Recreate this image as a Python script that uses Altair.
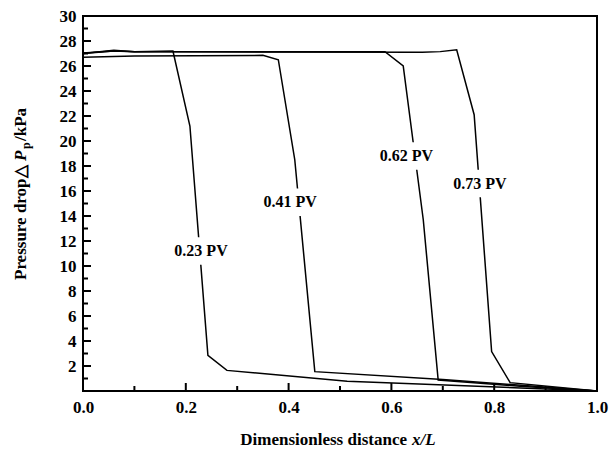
import altair as alt
import pandas as pd

# ---- data ----
x23 = [0.0, 0.06, 0.10, 0.175, 0.208, 0.243, 0.280, 0.514, 1.0]
y23 = [27.0, 27.25, 27.15, 27.2, 21.2, 2.85, 1.65, 0.78, 0.0]
x41 = [0.0, 0.10, 0.35, 0.38, 0.412, 0.451, 0.700, 1.0]
y41 = [26.7, 26.8, 26.85, 26.5, 18.5, 1.55, 0.92, 0.0]
x62 = [0.0, 0.06, 0.10, 0.5875, 0.623, 0.662, 0.691, 0.85, 1.0]
y62 = [27.0, 27.2, 27.15, 27.15, 26.0, 13.7, 0.88, 0.38, 0.0]
x73 = [0.0, 0.06, 0.10, 0.66, 0.695, 0.727, 0.761, 0.795, 0.831, 1.0]
y73 = [27.05, 27.2, 27.15, 27.1, 27.15, 27.3, 22.1, 3.15, 0.67, 0.0]

series_names = ["0.23 PV", "0.41 PV", "0.62 PV", "0.73 PV"]
label_x = [0.2296, 0.403, 0.629, 0.772]
label_y = [11.2, 15.1, 18.8, 16.6]

x_major = [0.0, 0.2, 0.4, 0.6, 0.8, 1.0]
x_minor = [0.1, 0.3, 0.5, 0.7, 0.9]
y_major = [2, 4, 6, 8, 10, 12, 14, 16, 18, 20, 22, 24, 26, 28, 30]
y_minor = [1, 3, 5, 7, 9, 11, 13, 15, 17, 19, 21, 23, 25, 27, 29]

# ---- tables ----
rows = []
for name, xs_, ys_ in zip(series_names, [x23, x41, x62, x73], [y23, y41, y62, y73]):
    for i, (a, b) in enumerate(zip(xs_, ys_)):
        rows.append({"series": name, "i": i, "x": a, "y": b})
lines_df = pd.DataFrame(rows)

hw, hh = 0.062, 1.1
labels_df = pd.DataFrame({
    "text": series_names,
    "x": label_x,
    "y": label_y,
    "x1": [v - hw for v in label_x],
    "x2": [v + hw for v in label_x],
    "y1": [v - hh for v in label_y],
    "y2": [v + hh for v in label_y],
})

W, H = 514, 375
FONT = "Liberation Serif"
xs = alt.Scale(domain=[0, 1], nice=False)
ys = alt.Scale(domain=[0, 30], nice=False)
common = dict(title=None, ticks=False, domain=False, grid=False, labelFlush=False,
              labelFont=FONT, labelFontSize=17, labelFontWeight="bold",
              labelColor="black", labelOverlap=False)
xaxis = alt.Axis(values=x_major, format=".1f", labelPadding=8, **common)
yaxis = alt.Axis(values=y_major, format="d", labelPadding=7, **common)

lines = alt.Chart(lines_df).mark_line(color="black", strokeWidth=1.5).encode(
    x=alt.X("x:Q", scale=xs, axis=xaxis),
    y=alt.Y("y:Q", scale=ys, axis=yaxis),
    detail="series:N",
    order="i:Q",
)

boxes = alt.Chart(labels_df).mark_rect(color="white").encode(
    x=alt.X("x1:Q", scale=xs, axis=xaxis), x2="x2:Q",
    y=alt.Y("y1:Q", scale=ys, axis=yaxis), y2="y2:Q",
)

texts = alt.Chart(labels_df).mark_text(font=FONT, fontSize=16, fontWeight="bold",
                                       color="black").encode(
    x=alt.X("x:Q", scale=xs, axis=xaxis),
    y=alt.Y("y:Q", scale=ys, axis=yaxis),
    text="text:N",
)

xmaj = alt.Chart(pd.DataFrame({"v": x_major[1:-1]})).mark_rule(color="black", strokeWidth=2).encode(
    x=alt.X("v:Q", scale=xs, axis=xaxis), y=alt.value(H), y2=alt.value(H - 8))
xmin = alt.Chart(pd.DataFrame({"v": x_minor})).mark_rule(color="black", strokeWidth=2).encode(
    x=alt.X("v:Q", scale=xs, axis=xaxis), y=alt.value(H), y2=alt.value(H - 5))
ymaj = alt.Chart(pd.DataFrame({"v": y_major[:-1]})).mark_rule(color="black", strokeWidth=2).encode(
    y=alt.Y("v:Q", scale=ys, axis=yaxis), x=alt.value(0), x2=alt.value(8))
ymin = alt.Chart(pd.DataFrame({"v": y_minor})).mark_rule(color="black", strokeWidth=2).encode(
    y=alt.Y("v:Q", scale=ys, axis=yaxis), x=alt.value(0), x2=alt.value(5))

dummy = pd.DataFrame({"d": [0]})

def piece(text, x, y, size=17, style="normal", angle=0, align="left"):
    return alt.Chart(dummy).mark_text(
        text=text, font=FONT, fontSize=size, fontWeight="bold", fontStyle=style,
        angle=angle, align=align, baseline="middle", color="black"
    ).encode(x=alt.value(x), y=alt.value(y))

# x-axis title: "Dimensionless distance x/L"
xt_y = 440 - 16
xt1 = piece("Dimensionless distance", 324, xt_y, align="right")
xt2 = piece("x/L", 329, xt_y, style="italic", align="left")

# y-axis title: "Pressure drop△P_p /kPa" (rotated)
yx = 21 - 83
yt1 = piece("Pressure drop\u25b3", yx, 280 - 16, angle=270)
yt2 = piece("P", yx, 161 - 16, style="italic", angle=270)
yt3 = piece("p", yx + 5, 149 - 16, size=12, angle=270)
yt4 = piece("/kPa", yx, 141 - 16, angle=270)

chart = alt.layer(
    lines, boxes, texts, xmaj, xmin, ymaj, ymin, xt1, xt2, yt1, yt2, yt3, yt4
).properties(
    width=W, height=H,
    autosize=alt.AutoSizeParams(type="none"),
    padding={"left": 83, "top": 16, "right": 14, "bottom": 63},
    background="white",
).configure_view(
    stroke="black", strokeWidth=2
)

chart.save("out.html", embed_options={"renderer": "svg", "actions": False})
